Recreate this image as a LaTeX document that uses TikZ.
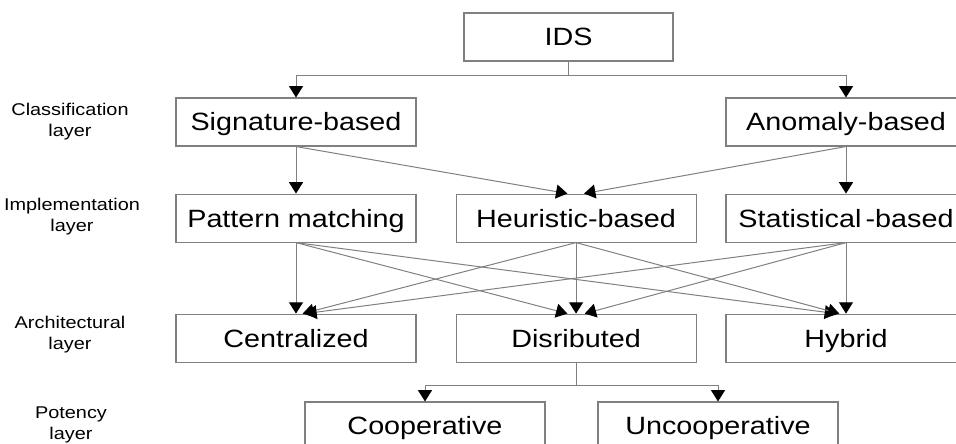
\documentclass[tikz,border=0pt]{standalone}
\usepackage{fontspec}
\setmainfont{Liberation Sans}
\newfontfamily\blkfont[FakeStretch=1.15]{Liberation Sans}
\newfontfamily\lblfont[FakeStretch=1.17]{Liberation Sans}
\usepackage{tikz}
\usetikzlibrary{arrows.meta,positioning}
\usepackage{xcolor}
\definecolor{lineGray}{RGB}{128,128,128}
\tikzset{
    blk/.style={rectangle, draw=lineGray, line width=0.8pt, inner sep=0pt,
                minimum height=36pt, minimum width=180pt,
                text height=13.4pt, text depth=0pt,
                font=\blkfont\fontsize{18.75}{22}\selectfont},
    ln/.style={draw=lineGray, line width=0.75pt},
    arr/.style={ln, -{Triangle[width=10.5pt, length=8.5pt, color=black]}},
    lbl/.style={align=center, font=\lblfont\fontsize{12.75}{15.75}\selectfont},
}

\begin{document}
\begin{tikzpicture}[x=0.75pt, y=-0.75pt]
    \useasboundingbox (0,0) rectangle (956,443);
    \clip (0,0) rectangle (956,443);

    % layer names
    \node[lbl] (lclass) at (70,122)  {Classification\\layer};
    \node[lbl] (limpl)  at (72,217)  {Implementation\\layer};
    \node[lbl] (larch)  at (70,335)  {Architectural\\layer};
    \node[lbl] (lpot)   at (71,425)  {Potency\\layer};

    % boxes
    \node[blk, minimum width=156.75pt] (ids) at (568.5,37) {IDS};
    \node[blk] (sig)  at (296,122) {Signature-based};
    \node[blk] (anom) at (846,122) {Anomaly-based};
    \node[blk, below=35.25pt of sig]  (pat)  {Pattern matching};
    \node[blk, right=29.25pt of pat]  (heur) {Heuristic-based};
    \node[blk, below=35.25pt of anom] (stat) {Statistical\,-based};
    \node[blk, below=53.25pt of pat]  (cent) {Centralized};
    \node[blk, below=53.25pt of heur] (dist) {Disributed};
    \node[blk, below=53.25pt of stat] (hyb)  {Hybrid};
    \node[blk] (coop)   at (425,426) {Cooperative};
    \node[blk] (uncoop) at (718,426) {Uncooperative};

    % IDS -> classification
    \coordinate (idssplit) at ([yshift=-10.5pt]ids.south);
    \draw[ln]  (ids.south) -- (idssplit);
    \draw[arr] (idssplit) -| (sig.north);
    \draw[arr] (idssplit) -| (anom.north);

    % classification -> implementation
    \draw[arr] (sig.south)  -- (pat.north);
    \draw[arr] (sig.south)  -- ([xshift=-6.5pt]heur.north);
    \draw[arr] (anom.south) -- ([xshift=6pt]heur.north);
    \draw[arr] (anom.south) -- (stat.north);

    % implementation -> architecture
    \draw[arr] (pat.south)  -- (cent.north);
    \draw[arr] (heur.south) -- ([xshift=5pt]cent.north);
    \draw[arr] (stat.south) -- ([xshift=7pt]cent.north);
    \draw[arr] (pat.south)  -- ([xshift=-6.5pt]dist.north);
    \draw[arr] (heur.south) -- (dist.north);
    \draw[arr] (stat.south) -- ([xshift=6.5pt]dist.north);
    \draw[arr] (pat.south)  -- ([xshift=-7.5pt]hyb.north);
    \draw[arr] (heur.south) -- ([xshift=-5pt]hyb.north);
    \draw[arr] (stat.south) -- (hyb.north);

    % distributed -> potency
    \coordinate (distsplit) at ([yshift=-17.25pt]dist.south);
    \draw[ln]  (dist.south) -- (distsplit);
    \draw[arr] (distsplit) -| (coop.north);
    \draw[arr] (distsplit) -| (uncoop.north);
\end{tikzpicture}
\end{document}
